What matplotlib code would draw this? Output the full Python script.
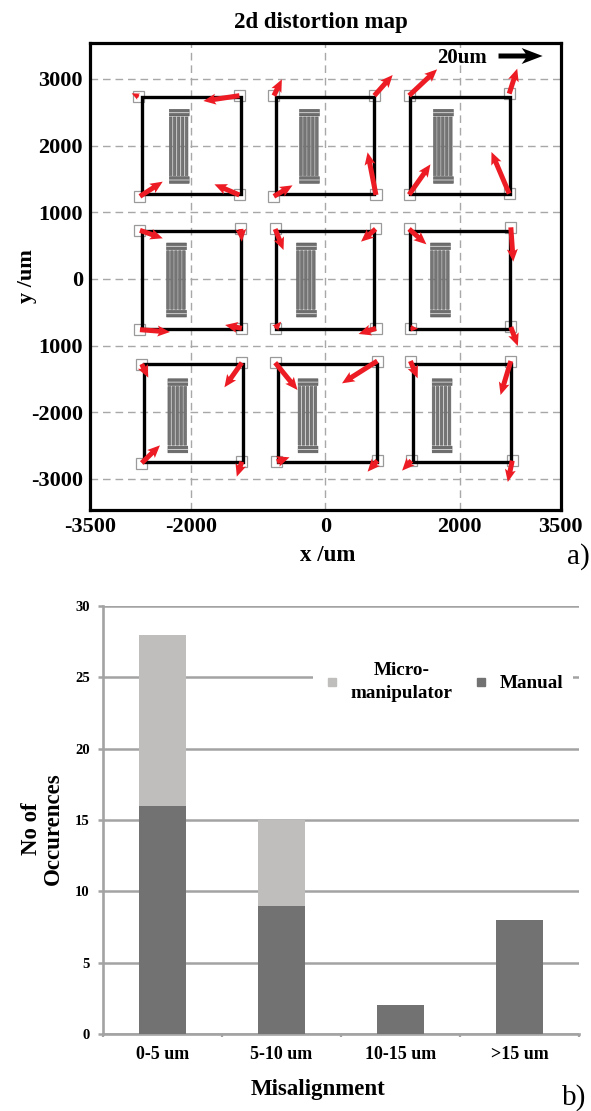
import numpy as np
import matplotlib
matplotlib.use("Agg")
import matplotlib.pyplot as plt
from matplotlib.patches import Rectangle
from matplotlib.lines import Line2D

plt.rcParams['font.family'] = ['Liberation Serif', 'DejaVu Serif']
plt.rcParams['axes.unicode_minus'] = False

W, H = 591, 1111

# ---- panel a data (um) ----
chip_left   = [-2732, -730, 1267, -2732, -730, 1267, -2697, -700, 1307]
chip_right  = [-1256,  730, 2747, -1256,  730, 2747, -1222,  775, 2767]
chip_top    = [2737, 2737, 2737, 721, 721, 721, -1281, -1281, -1281]
chip_bottom = [1272, 1272, 1272, -751, -751, -751, -2748, -2748, -2748]

comb_x = [-2172, -235, 1758, -2213, -280, 1714, -2193, -256, 1739]
comb_y = [1990, 1990, 1990, -15, -15, -15, -2052, -2052, -2052]

# alignment mark centres, per chip: TL, TR, BL, BR
mark_x = [-2776, -1277, -2757, -1277,  -764, 730, -764, 755,  1247, 2737, 1247, 2737,
          -2757, -1256, -2757, -1241,  -745, 749, -745, 755,  1247, 2761, 1267, 2761,
          -2731, -1241, -2731, -1241,  -745, 775, -720, 775,  1267, 2761, 1281, 2782]
mark_y = [2735, 2750, 1240, 1260,  2750, 2750, 1240, 1260,  2750, 2780, 1265, 1280,
          730, 750, -760, -740,  750, 750, -740, -740,  750, 775, -740, -720,
          -1275, -1255, -2760, -2740,  -1255, -1230, -2740, -2725,  -1230, -1230, -2725, -2725]
# distortion arrow tips
tip_x = [-2880, -1813, -2418, -1649,  -645, 1003, -487, 630,  1664, 2856, 1565, 2473,
         -2418, -1241, -2310, -1490,  -621, 532, -656, 496,  1505, 2797, 1381, 2865,
         -2633, -1500, -2459, -1316,  -413, 249, -532, 630,  1375, 2608, 1143, 2716]
tip_y = [2785, 2670, 1460, 1420,  2995, 3060, 1405, 1900,  3145, 3155, 1720, 1905,
         610, 560, -795, -690,  435, 560, -640, -825,  520, 260, -745, -1005,
         -1480, -1625, -2495, -2965,  -1665, -1565, -2675, -2890,  -1490, -1740, -2875, -3045]

x_ticks = [-3500, -2000, 0, 2000, 3500]
y_ticks = [3000, 2000, 1000, 0, -1000, -2000, -3000]
y_tick_labels = ['3000', '2000', '1000', '0', '1000', '-2000', '-3000']

# ---- panel b data ----
categories = ['0-5 um', '5-10 um', '10-15 um', '>15 um']
manual = [16, 9, 2, 8]
micro = [12, 6, 0, 0]
y2_ticks = [0, 5, 10, 15, 20, 25, 30]

def axes_px(l, t, r, b):
    return [l / W, 1 - b / H, (r - l) / W, (b - t) / H]

fig = plt.figure(figsize=(W / 100, H / 100), dpi=100)

# ------------ panel a ------------
ax = fig.add_axes(axes_px(90, 43, 560.5, 510))
ax.set_xlim(-3500, 3500)
ax.set_ylim(-3465, 3540)
ax.set_xticks(x_ticks)
ax.set_yticks(y_ticks, y_tick_labels)
ax.grid(True, color='#a8a8a8', ls=(0, (5.5, 3.5)), lw=1.0)
ax.set_axisbelow(True)
ax.tick_params(length=0, pad=5, labelsize=16)
for lab in ax.get_xticklabels() + ax.get_yticklabels():
    lab.set_fontweight('bold')
for s in ax.spines.values():
    s.set_linewidth(2.3)
ax.set_title('2d distortion map', fontsize=16.5, fontweight='bold', pad=10.5, x=0.49)
ax.set_xlabel('x /um', fontsize=16.5, fontweight='bold', x=0.506, labelpad=5.5)
ax.set_ylabel('y /um', fontsize=16, fontweight='bold', va='center')
ax.yaxis.set_label_coords(-63 / 470, 0.5)

mark_size = 165
for mx0, my0 in zip(mark_x, mark_y):
    ax.add_patch(Rectangle((mx0 - mark_size / 2, my0 - mark_size / 2), mark_size, mark_size,
                           fc='white', ec='#9a9a9a', lw=0.9, zorder=2))
for l, r, t, b in zip(chip_left, chip_right, chip_top, chip_bottom):
    ax.add_patch(Rectangle((l, b), r - l, t - b, fc='none', ec='black', lw=2.4, zorder=4))

# interdigitated comb structures
comb_w, comb_h = 295, 1110
for cx, cy in zip(comb_x, comb_y):
    for sign in (1, -1):
        y0 = cy + sign * (comb_h / 2 - 50)
        ax.add_patch(Rectangle((cx - comb_w / 2, y0 - 50), comb_w, 100, fc='#6e6e6e', ec='#555555',
                               lw=0.4, zorder=3, snap=False))
        ax.plot([cx - comb_w / 2, cx + comb_w / 2], [y0, y0], color='#e0e0e0', lw=0.6, zorder=3, snap=False)
    sw = comb_w / 5
    for i in range(5):
        x0 = cx - comb_w / 2 + i * sw
        y0 = cy - comb_h / 2 + 115
        ax.add_patch(Rectangle((x0, y0), sw - 18, comb_h - 230, fc='#757575', ec='#5f5f5f',
                               lw=0.4, zorder=3, snap=False))

mx, my = np.array(mark_x), np.array(mark_y)
ax.quiver(mx, my, np.array(tip_x) - mx, np.array(tip_y) - my, angles='xy', scale_units='xy', scale=1,
          units='dots', width=5.0, headwidth=2.2, headlength=2.5, headaxislength=2.2, minlength=0,
          color='#ed1c24', zorder=5)

ax.text(2034, 3310, '20um', ha='center', va='center', fontsize=15, fontweight='bold', zorder=6)
scale_x, scale_y, scale_len = [2578], [3345], [656]
ax.quiver(scale_x, scale_y, scale_len, [0], angles='xy', scale_units='xy', scale=1,
          units='dots', width=5, headwidth=3.2, headlength=4.2, headaxislength=3.4, color='black', zorder=6)

# ------------ panel b ------------
GREY = '#a3a3a3'
bx = fig.add_axes(axes_px(103, 606, 579, 1034))
pos = np.arange(len(categories))
bx.bar(pos, manual, width=0.395, color='#727272', zorder=3)
bx.bar(pos, micro, width=0.395, bottom=manual, color='#bfbebc', zorder=3)
bx.set_xlim(-0.5, 3.5)
bx.set_ylim(0, 30)
bx.set_xticks(pos, categories)
bx.set_xticks(np.arange(-0.5, 4, 1), minor=True)
bx.set_yticks(y2_ticks)
bx.yaxis.grid(True, color=GREY, lw=1.8)
bx.set_axisbelow(True)
bx.tick_params(axis='y', length=3.6, width=1.8, color=GREY, labelsize=10.5, pad=6)
bx.tick_params(axis='x', which='major', length=0, labelsize=13, pad=8.5)
bx.tick_params(axis='x', which='minor', length=2.5, width=1.6, color=GREY)
for lab in bx.get_xticklabels() + bx.get_yticklabels():
    lab.set_fontweight('bold')
for side in ('top', 'right'):
    bx.spines[side].set_visible(False)
bx.spines['left'].set_color(GREY)
bx.spines['left'].set_linewidth(1.9)
bx.spines['bottom'].set_color(GREY)
bx.spines['bottom'].set_linewidth(1.9)
bx.set_xlabel('Misalignment', fontsize=16.5, fontweight='bold', x=(318 - 103) / 476, labelpad=11.5)
bx.set_ylabel('No of\nOccurences', fontsize=16.5, fontweight='bold', linespacing=1.05, va='center', ha='center')
bx.yaxis.set_label_coords((42 - 103) / 476, (1034 - 829) / 428)

h1 = Line2D([], [], ls='', marker='s', ms=6.3, color='#bfbebc')
h2 = Line2D([], [], ls='', marker='s', ms=6.3, color='#727272')
leg = bx.legend([h1, h2], ['Micro-\nmanipulator', 'Manual'], ncol=2, frameon=True, framealpha=1,
                edgecolor='none', facecolor='white', fancybox=False, loc='center left',
                bbox_to_anchor=((313 - 103) / 476, (1034 - 682) / 428), borderaxespad=0,
                prop=dict(weight='bold', size=13.8), handletextpad=0.45, columnspacing=1.0,
                labelspacing=0, borderpad=0.5, handlelength=1)
leg.get_frame().set_linewidth(0)
leg.get_texts()[0].set_multialignment('center')
leg.get_texts()[0].set_linespacing(1.45)
leg.set_zorder(2.5)

fig.text(578 / W, 1 - 557 / H, 'a)', fontsize=21, ha='center', va='center')
fig.text(574 / W, 1 - 1098 / H, 'b)', fontsize=21, ha='center', va='center')

fig.savefig('out.png', dpi=100)
